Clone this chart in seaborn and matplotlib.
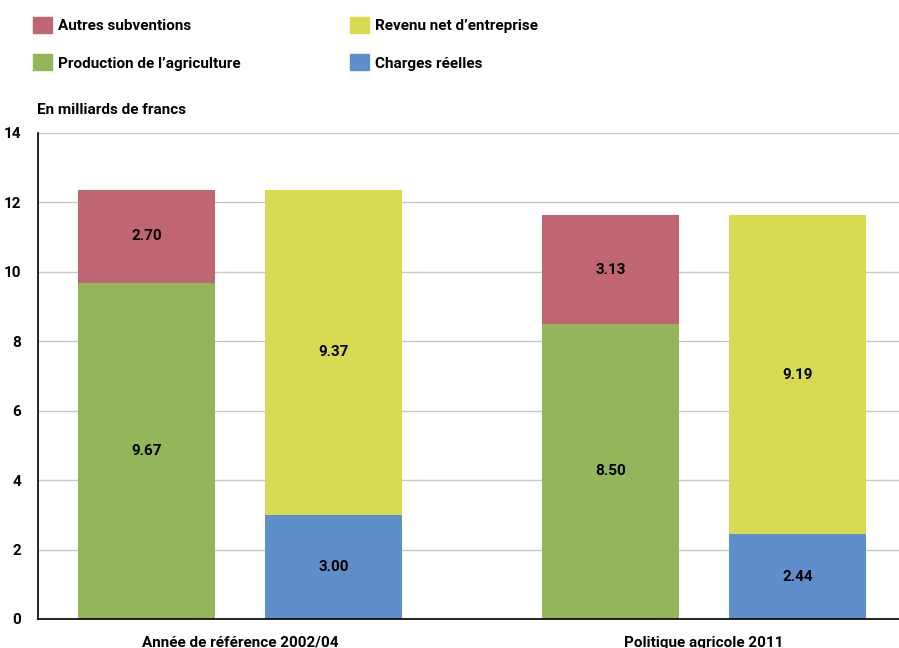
import matplotlib
matplotlib.use("Agg")
import matplotlib.pyplot as plt
import seaborn as sns
import numpy as np
from matplotlib.patches import Patch

groups = ["Année de référence 2002/04", "Politique agricole 2011"]
production = [9.67, 8.50]
autres_subv = [2.70, 3.13]
charges = [3.00, 2.44]
revenu = [9.37, 9.19]
yticks = [0, 2, 4, 6, 8, 10, 12, 14]

c_red = "#bf6672"
c_green = "#95b55a"
c_yellow = "#d8db52"
c_blue = "#5f8fca"

sns.set_theme(style="white")
plt.rcParams['font.family'] = ['Roboto', 'DejaVu Sans']
plt.rcParams['font.weight'] = 'bold'
plt.rcParams['text.color'] = 'black'
plt.rcParams['xtick.color'] = 'black'
plt.rcParams['ytick.color'] = 'black'

fig = plt.figure(figsize=(8.99, 6.48), dpi=100)
ax = fig.add_axes([38/899, 1-619/648, 1-38/899, (619-133)/648])

x = np.arange(len(groups))
w = 0.295
off = 0.2015
kw = dict(linewidth=0, edgecolor="none", zorder=2)
ax.bar(x - off, production, w, color=c_green, **kw)
ax.bar(x - off, autres_subv, w, bottom=production, color=c_red, **kw)
ax.bar(x + off, charges, w, color=c_blue, **kw)
ax.bar(x + off, revenu, w, bottom=charges, color=c_yellow, **kw)

fs = 11
for i in range(len(groups)):
    ax.text(x[i] - off, production[i] / 2, f"{production[i]:.2f}", ha="center", va="center", fontsize=fs, fontweight="bold", zorder=3)
    ax.text(x[i] - off, production[i] + autres_subv[i] / 2, f"{autres_subv[i]:.2f}", ha="center", va="center", fontsize=fs, fontweight="bold", zorder=3)
    ax.text(x[i] + off, charges[i] / 2, f"{charges[i]:.2f}", ha="center", va="center", fontsize=fs, fontweight="bold", zorder=3)
    ax.text(x[i] + off, charges[i] + revenu[i] / 2, f"{revenu[i]:.2f}", ha="center", va="center", fontsize=fs, fontweight="bold", zorder=3)

ax.set_xlim(-0.435, 1.42)
ax.set_ylim(0, 14)
ax.set_yticks(yticks)
ax.set_yticklabels([str(v) for v in yticks], fontsize=fs, fontweight="bold")
ax.set_xticks(x)
ax.set_xticklabels(groups, fontsize=fs, fontweight="bold")
ax.tick_params(axis="y", length=0, pad=12)
ax.tick_params(axis="x", length=0, pad=12)
ax.yaxis.grid(True, color="#c8c8c8", linewidth=1, zorder=0)
ax.set_axisbelow(True)
for s in ["top", "right"]:
    ax.spines[s].set_visible(False)
for s in ["left", "bottom"]:
    ax.spines[s].set_color("black")
    ax.spines[s].set_linewidth(1.2)

fig.text(37/899, 1-110/648, "En milliards de francs", fontsize=fs, fontweight="bold", va="center", ha="left")

col1 = [Patch(color=c_red, label="Autres subventions"),
        Patch(color=c_green, label="Production de l’agriculture")]
col2 = [Patch(color=c_yellow, label="Revenu net d’entreprise"),
        Patch(color=c_blue, label="Charges réelles")]
leg_kw = dict(ncol=1, loc="upper left", frameon=False, fontsize=fs, handlelength=1.25,
              handleheight=1.25, labelspacing=1.38, handletextpad=0.4, borderpad=0, borderaxespad=0)
fig.legend(handles=col1, bbox_to_anchor=(33/899, 1-17/648), **leg_kw)
fig.legend(handles=col2, bbox_to_anchor=(350/899, 1-17/648), **leg_kw)

fig.savefig("out.png", dpi=100)
